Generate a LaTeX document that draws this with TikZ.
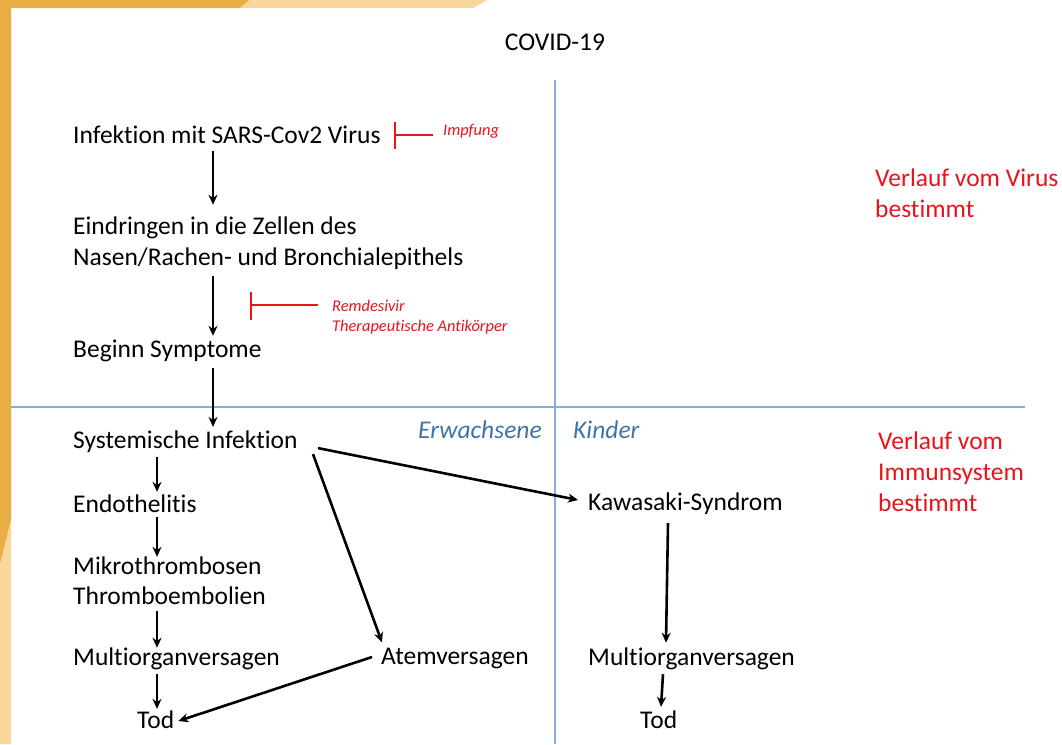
\documentclass[tikz,border=0pt]{standalone}
\usepackage{fontspec}
\setmainfont[Ligatures=NoCommon]{Carlito}
\usetikzlibrary{arrows.meta}
\definecolor{barA}{HTML}{E8AE43}
\definecolor{barB}{HTML}{F9D699}
\definecolor{gridblue}{HTML}{86AEDA}
\definecolor{labblue}{HTML}{3F74A8}
\definecolor{red1}{HTML}{E8141C}
\tikzset{
  txt/.style={anchor=west,inner sep=0pt,font=\fontsize{25.5}{31}\selectfont,text=black},
  redtxt/.style={anchor=west,inner sep=0pt,font=\fontsize{25.5}{31}\selectfont,text=red1,align=left},
  smalltxt/.style={anchor=west,inner sep=0pt,font=\fontsize{16.4}{20.5}\selectfont\itshape,text=red1,align=left},
  bluetxt/.style={anchor=west,inner sep=0pt,font=\fontsize{25.5}{31}\selectfont\itshape,text=labblue},
  arr/.style={-{Stealth[length=10pt,width=9pt]},line width=2.6pt,black},
  inhib/.style={red1,line width=1.2pt},
  gridline/.style={gridblue,line width=1.2pt}
}
\begin{document}
\begin{tikzpicture}[x=1pt,y=-1pt]
\useasboundingbox (0,0) rectangle (1062,744);
\fill[white] (0,0) rectangle (1062,744);
% decorations
\fill[barA] (0,0) -- (250,0) -- (240,8) -- (0,8) -- cycle;
\fill[barB] (250,0) -- (487,0) -- (473,8) -- (240,8) -- cycle;
\fill[barA] (0,0) -- (11,0) -- (11,520) -- (0,565) -- cycle;
\fill[barB] (0,565) -- (11,520) -- (11,744) -- (0,744) -- cycle;
% grid lines
\draw[gridline] (11,407) -- (1025,407);
\draw[gridline] (555,80) -- (555,744);
% title
\node[txt,anchor=center] (title) at (555,42) {COVID-19};
% left column
\node[txt] (inf) at (73,135) {Infektion mit SARS-Cov2 Virus};
\node[txt] (ein1) at (73,228) {Eindringen in die Zellen des};
\node[txt] (ein2) at (73,259) {Nasen/Rachen- und Bronchialepithels};
\node[txt] (beg) at (73,351) {Beginn Symptome};
\node[txt] (sys) at (73,442) {Systemische Infektion};
\node[txt] (endo) at (73,504) {Endothelitis};
\node[txt] (mik) at (73,566) {Mikrothrombosen};
\node[txt] (thr) at (73,596) {Thromboembolien};
\node[txt] (mov) at (73,659) {Multiorganversagen};
\node[txt] (tod) at (137,720) {Tod};
\node[txt] (atem) at (381,659) {Atemversagen};
% right column
\node[txt] (kaw) at (588,504) {Kawasaki-Syndrom};
\node[txt] (mov2) at (588,659) {Multiorganversagen};
\node[txt] (tod2) at (640,720) {Tod};
% section labels
\node[bluetxt] (erw) at (418,430) {Erwachsene};
\node[bluetxt] (kind) at (573,430) {Kinder};
\node[redtxt] (vir) at (875,193) {Verlauf vom Virus\\bestimmt};
\node[redtxt] (imm) at (878,472) {Verlauf vom\\Immunsystem\\bestimmt};
% inhibitors
\node[smalltxt] (impf) at (443,131) {Impfung};
\coordinate (impfbar) at (395,135);
\draw[inhib] (395,122) -- (395,149);
\draw[inhib] (impfbar) -- (433,135);
\node[smalltxt] (rem) at (332,317) {Remdesivir\\Therapeutische Antikörper};
\coordinate (rembar) at (251,305);
\draw[inhib] (251,292) -- (251,320);
\draw[inhib] (rembar) -- (318,305);
% arrows
\draw[arr] ([xshift=140pt,yshift=-7pt]inf.south west) -- ([xshift=140pt,yshift=12pt]ein1.north west);
\draw[arr] ([xshift=140pt,yshift=-6pt]ein2.south west) -- ([xshift=140pt,yshift=4pt]beg.north west);
\draw[arr] ([xshift=140pt,yshift=-6pt]beg.south west) -- ([xshift=140pt,yshift=4pt]sys.north west);
\draw[arr] ([xshift=84pt,yshift=-4pt]sys.south west) -- ([xshift=84pt,yshift=3pt]endo.north west);
\draw[arr] ([xshift=84pt,yshift=-4pt]endo.south west) -- ([xshift=84pt,yshift=0pt]mik.north west);
\draw[arr] ([xshift=84pt,yshift=-6pt]thr.south west) -- ([xshift=84pt,yshift=0pt]mov.north west);
\draw[arr] ([xshift=84pt,yshift=-4pt]mov.south west) -- ([xshift=20pt,yshift=2pt]tod.north west);
\draw[arr] ([xshift=-9pt,yshift=2pt]atem.west) -- ([xshift=4pt,yshift=-1pt]tod.east);
\draw[arr] ([xshift=240pt,yshift=-1pt]sys.south west) -- ([xshift=1pt,yshift=6pt]atem.north west);
\draw[arr] ([xshift=245pt,yshift=5pt]sys.south west) -- ([xshift=-10pt,yshift=4pt]kaw.west);
\draw[arr] ([xshift=80pt,yshift=-8pt]kaw.south west) -- ([xshift=78pt,yshift=5pt]mov2.north west);
\draw[arr] ([xshift=75pt,yshift=-4pt]mov2.south west) -- ([xshift=21pt,yshift=4pt]tod2.north west);
\end{tikzpicture}
\end{document}
